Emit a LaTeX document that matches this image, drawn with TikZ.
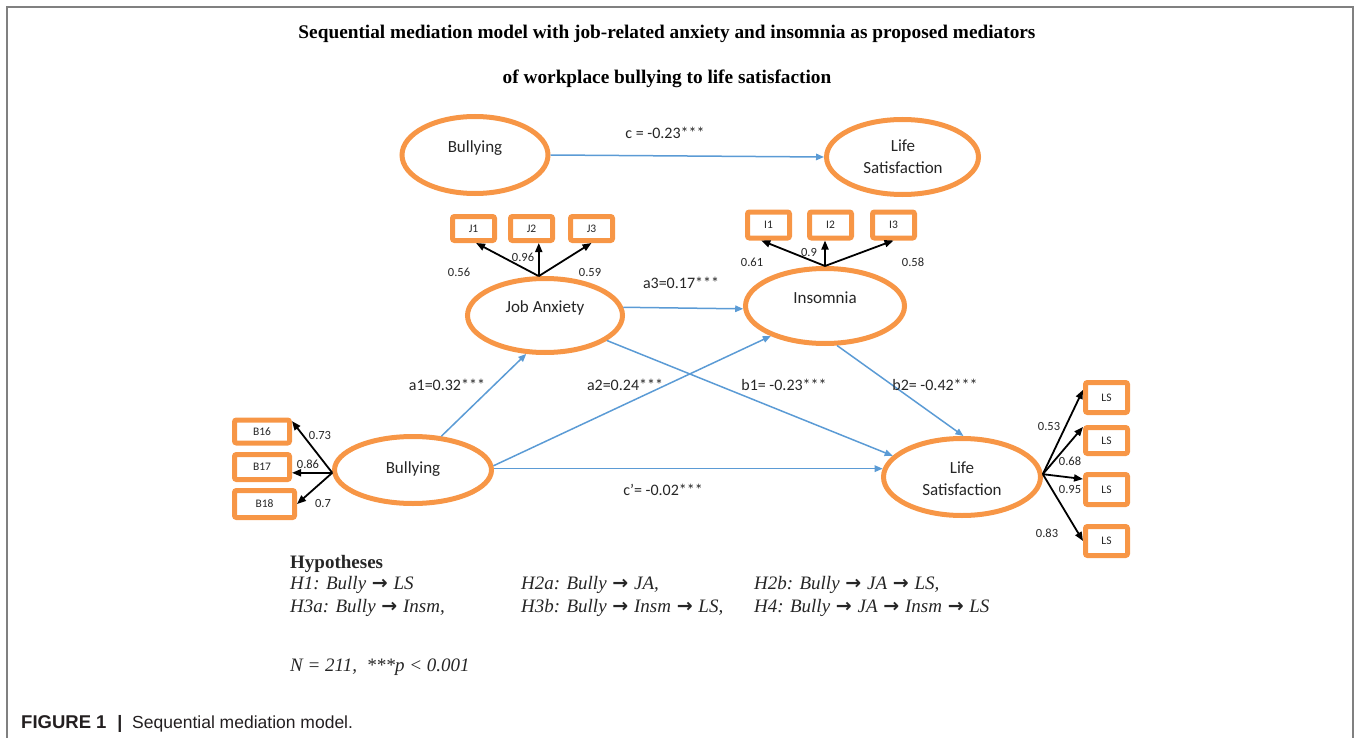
\documentclass[tikz,border=0pt]{standalone}
\usepackage{fontspec}
\setmainfont{Liberation Serif}
\newfontfamily\calfont{Carlito}
\newfontfamily\capfont{Liberation Sans}
\newfontfamily\arrfont{DejaVu Sans}
\newcommand\harr{{\kern1pt\arrfont\bfseries\upshape\fontsize{19}{20}\selectfont →\kern1pt}}
\usetikzlibrary{shapes.geometric,arrows.meta}
\definecolor{orng}{HTML}{F79646}
\definecolor{bluel}{HTML}{5B9BD5}
\definecolor{frm}{HTML}{808080}
\definecolor{txt}{HTML}{262626}
\definecolor{captxt}{HTML}{231F20}
\tikzset{
  lat/.style={ellipse, draw=orng, line width=5pt, inner sep=0pt},
  ind/.style={rectangle, draw=orng, line width=5pt, rounded corners=2pt, inner sep=0pt,
    text=txt, font=\calfont\fontsize{11.5}{13}\selectfont},
  lattext/.style={text=txt, align=center, inner sep=0pt, font=\calfont\fontsize{17}{22}\selectfont},
  edgelbl/.style={text=txt, inner sep=0pt, font=\calfont\fontsize{16}{18}\selectfont},
  loadlbl/.style={text=txt, inner sep=0pt, font=\calfont\fontsize{12.5}{14}\selectfont},
  bluearrow/.style={draw=bluel, line width=1.5pt, -{Triangle[length=8pt,width=6.5pt]}},
  loadarrow/.style={draw=black, line width=1.8pt, -{Triangle[length=9pt,width=7pt]}},
  titletext/.style={anchor=base, inner sep=0pt, font=\bfseries\fontsize{19.3}{22}\selectfont},
  hyptext/.style={anchor=base west, inner sep=0pt, text=txt, font=\itshape\fontsize{19}{23}\selectfont},
}
\begin{document}
\begin{tikzpicture}[x=1pt,y=-1pt]
\useasboundingbox (0,0) rectangle (1356,738);
\draw[frm, line width=1.5pt] (7,738) -- (7,7) -- (1353,7) -- (1353,738);

% title
\node[titletext] (t1) at (667,39) {Sequential mediation model with job-related anxiety and insomnia as proposed mediators};
\node[titletext] (t2) at (667,84) {of workplace bullying to life satisfaction};

% latent variables
\node[lat, minimum width=146pt, minimum height=77pt] (bt) at (475,155) {};
\node[lat, minimum width=152pt, minimum height=75pt] (lt) at (902.5,157) {};
\node[lat, minimum width=155pt, minimum height=74pt] (ja) at (545,315.5) {};
\node[lat, minimum width=159pt, minimum height=75pt] (ins) at (825,306) {};
\node[lat, minimum width=157pt, minimum height=67pt] (bl) at (413,470) {};
\node[lat, minimum width=157pt, minimum height=77pt] (ls) at (962,477) {};

\node[lattext] (btx) at (475,148) {Bullying};
\node[lattext] (ltx) at (903,157) {Life\\Satisfaction};
\node[lattext] (jax) at (545,308) {Job Anxiety};
\node[lattext] (insx) at (825,298) {Insomnia};
\node[lattext] (blx) at (413,469) {Bullying};
\node[lattext] (lsx) at (962,478.5) {Life\\Satisfaction};

% indicators
\node[ind, minimum width=42pt, minimum height=24pt] (j1) at (473.5,228.5) {J1};
\node[ind, minimum width=42pt, minimum height=24pt] (j2) at (531.5,228.5) {J2};
\node[ind, minimum width=42pt, minimum height=24pt] (j3) at (591.5,228.5) {J3};
\node[ind, minimum width=42pt, minimum height=26pt] (i1) at (768.5,225) {I1};
\node[ind, minimum width=42pt, minimum height=26pt] (i2) at (830.5,225) {I2};
\node[ind, minimum width=42pt, minimum height=26pt] (i3) at (893.5,225) {I3};
\node[ind, minimum width=55pt, minimum height=23pt] (b16) at (262,431.5) {B16};
\node[ind, minimum width=55pt, minimum height=25pt] (b17) at (262,467) {B17};
\node[ind, minimum width=60pt, minimum height=27pt] (b18) at (264.5,504) {B18};
\node[ind, minimum width=42pt, minimum height=30pt] (ls1) at (1106.5,397.5) {LS};
\node[ind, minimum width=42pt, minimum height=26pt] (ls2) at (1106.5,440.5) {LS};
\node[ind, minimum width=42pt, minimum height=30pt] (ls3) at (1106.5,489.5) {LS};
\node[ind, minimum width=42pt, minimum height=29pt] (ls4) at (1106.5,541) {LS};

% loading arrows
\draw[loadarrow] (ja.99) -- (j1.-80);
\draw[loadarrow] (ja.99) -- (ja.99 |- j2.south);
\draw[loadarrow] (ja.99) -- (j3.south);
\draw[loadarrow] (ins.north) -- (i1.-115);
\draw[loadarrow] (ins.north) -- (ins.north |- i2.south);
\draw[loadarrow] (ins.north) -- (i3.south);
\draw[loadarrow] (bl.182) -- (b16.19);
\draw[loadarrow] (bl.182) -- (bl.182 -| b17.east);
\draw[loadarrow] (bl.182) -- (b18.east);
\draw[loadarrow] (ls.2) -- (ls1.162);
\draw[loadarrow] (ls.2) -- (ls2.150);
\draw[loadarrow] (ls.2) -- (ls3.156);
\draw[loadarrow] (ls.2) -- (ls4.west);

% loading labels
\node[loadlbl] (l056) at (459,272) {0.56};
\node[loadlbl] (l096) at (523,257) {0.96};
\node[loadlbl] (l059) at (590,272) {0.59};
\node[loadlbl] (l061) at (752,262) {0.61};
\node[loadlbl] (l09) at (809,252) {0.9};
\node[loadlbl] (l058) at (913,262) {0.58};
\node[loadlbl] (l073) at (320,435) {0.73};
\node[loadlbl] (l086) at (308,464) {0.86};
\node[loadlbl] (l07) at (323,503) {0.7};
\node[loadlbl] (l053) at (1049,426) {0.53};
\node[loadlbl] (l068) at (1070,461) {0.68};
\node[loadlbl] (l095) at (1070,489) {0.95};
\node[loadlbl] (l083) at (1047,533) {0.83};

% structural paths
\draw[bluearrow] (bt.east) -- (lt.west);
\draw[bluearrow] (ja.6) -- (ins.182);
\draw[bluearrow] (bl.50) -- (ja.-116);
\draw[bluearrow] (bl.3) -- (ins.209);
\draw[bluearrow] (ja.-22) -- (ls.163);
\draw[bluearrow] (ins.-73) -- (ls.88);
\draw[bluearrow] (ls.174 -| bl.east) -- (ls.174);

\node[edgelbl] (lc) at (665,133) {c = -0.23***};
\node[edgelbl] (la3) at (681,283) {a3=0.17***};
\node[edgelbl] (la1) at (447,385) {a1=0.32***};
\node[edgelbl] (la2) at (625,385) {a2=0.24***};
\node[edgelbl] (lb1) at (784,385) {b1= -0.23***};
\node[edgelbl] (lb2) at (935,385) {b2= -0.42***};
\node[edgelbl] (lcp) at (663,490) {c’= -0.02***};

% hypotheses
\node[hyptext, font=\bfseries\fontsize{19}{23}\selectfont] (hyp) at (290,568) {Hypotheses};
\node[hyptext] (h1) at (290,589) {H1: Bully \harr\ LS};
\node[hyptext] (h2a) at (521,589) {H2a: Bully \harr\ JA,};
\node[hyptext] (h2b) at (754,589) {H2b: Bully \harr\ JA \harr\ LS,};
\node[hyptext] (h3a) at (290,612) {H3a: Bully \harr\ Insm,};
\node[hyptext] (h3b) at (521,612) {H3b: Bully \harr\ Insm \harr\ LS,};
\node[hyptext] (h4) at (754,612) {H4: Bully \harr\ JA \harr\ Insm \harr\ LS};
\node[hyptext] (nn) at (290,671) {N = 211,\ \ ***p < 0.001};

% caption
\node[anchor=base west, inner sep=0pt, text=captxt, font=\capfont\bfseries\fontsize{18.5}{20}\selectfont] (cap1) at (21,728) {FIGURE 1};
\node[anchor=base, inner sep=0pt, text=captxt, font=\capfont\bfseries\fontsize{18}{20}\selectfont] (cap2) at (120,728) {|};
\node[anchor=base west, inner sep=0pt, text=captxt, font=\capfont\fontsize{17.5}{20}\selectfont] (cap3) at (132,728) {Sequential mediation model.};
\end{tikzpicture}
\end{document}
